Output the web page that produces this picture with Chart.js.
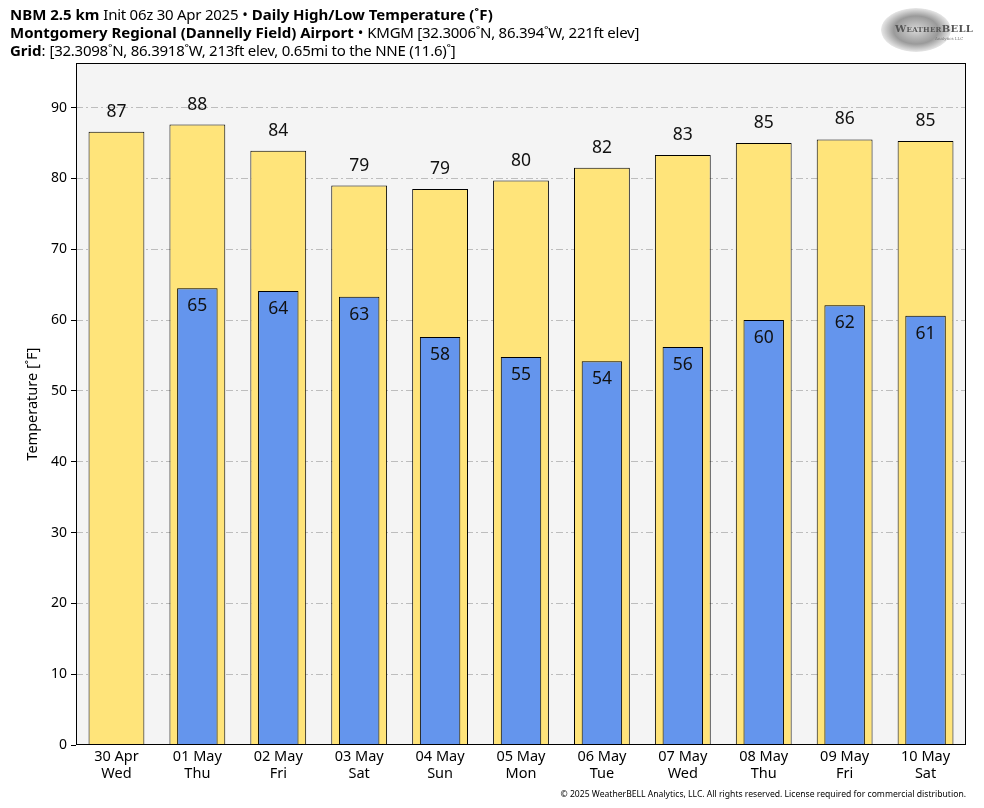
<!DOCTYPE html>
<html>
<head>
<meta charset="utf-8">
<script src="https://cdn.jsdelivr.net/npm/chart.js@4.4.1/dist/chart.umd.min.js"></script>
<style>
    html, body { margin: 0; padding: 0; background: #fff; }
    body { width: 984px; height: 808px; position: relative; overflow: hidden; font-family: "Noto Sans", sans-serif; }
    #wrap { position: absolute; left: 0; top: 0; width: 984px; height: 808px; }
    .hdr { position: absolute; left: 10px; font-size: 15px; line-height: 18px; color: #000; white-space: nowrap; }
    .hdr b { font-weight: 700; }
    .hdr .n { letter-spacing: -0.25px; }
    #foot { position: absolute; right: 18px; top: 788px; font-size: 8.6px; color: #000; }
    #logo { position: absolute; left: 879px; top: 7px; width: 92px; height: 46px; }
    #logo .ring { position: absolute; left: 2px; top: 1px; width: 70px; height: 44px; border-radius: 50%;
        background: radial-gradient(ellipse at center, #d8d8d8 0%, #9a9a9a 45%, #e6e6e6 70%, #fff 72%); }
    #logo .t { position: absolute; left: 16px; top: 16px; font-family: "DejaVu Serif", serif; font-size: 10px; color: #555; font-weight: 700; letter-spacing: 0.3px; }
    #logo .s { position: absolute; left: 56px; top: 29px; font-family: "DejaVu Serif", serif; font-size: 4px; color: #777; }
</style>
</head>
<body>
<div id="wrap"><canvas id="tempChart"></canvas></div>
<div class="hdr" style="top:5px"><b>NBM 2.5 km</b> <span class="n">Init 06z 30 Apr 2025</span> &bull; <b>Daily High/Low Temperature (&#730;F)</b></div>
<div class="hdr" style="top:23px"><b>Montgomery Regional (Dannelly Field) Airport</b> &bull; <span class="n">KMGM [32.3006&#730;N, 86.394&#730;W, 221ft elev]</span></div>
<div class="hdr" style="top:41px"><b>Grid</b>: <span class="n">[32.3098&#730;N, 86.3918&#730;W, 213ft elev, 0.65mi to the NNE (11.6)&#730;]</span></div>
<div id="logo"><div class="ring"></div><div class="t">W<span style="font-size:7px">EATHER</span>BELL</div><div class="s">Analytics LLC</div></div>
<div id="foot">&copy; 2025 WeatherBELL Analytics, LLC. All rights reserved. License required for commercial distribution.</div>
<script>
(function () {
    'use strict';

    var dateLabels = ['30 Apr', '01 May', '02 May', '03 May', '04 May', '05 May', '06 May', '07 May', '08 May', '09 May', '10 May'];
    var dayLabels = ['Wed', 'Thu', 'Fri', 'Sat', 'Sun', 'Mon', 'Tue', 'Wed', 'Thu', 'Fri', 'Sat'];
    var highTemps = [86.6, 87.6, 83.9, 79.0, 78.5, 79.7, 81.5, 83.3, 85.0, 85.5, 85.3];
    var lowTemps = [null, 64.5, 64.1, 63.3, 57.6, 54.8, 54.2, 56.2, 60.0, 62.1, 60.6];
    var yTicks = [0, 10, 20, 30, 40, 50, 60, 70, 80, 90];

    var fontFamily = '"Noto Sans", sans-serif';
    var labelFont = '17.5px ' + fontFamily;

    // plot background + frame
    var frame = {
        id: 'frame',
        beforeDraw: function (chart) {
            var a = chart.chartArea, c = chart.ctx;
            c.save();
            c.fillStyle = '#f4f4f4';
            c.fillRect(a.left, a.top, a.right - a.left, a.bottom - a.top);
            c.restore();
        },
        afterDraw: function (chart) {
            var a = chart.chartArea, c = chart.ctx;
            c.save();
            c.strokeStyle = '#000';
            c.lineWidth = 1;
            c.strokeRect(a.left + 0.5, a.top + 0.5, a.right - a.left - 1, a.bottom - a.top - 1);
            c.restore();
        }
    };

    // value labels: highs above bar, lows inside top of bar
    var valueLabels = {
        id: 'valueLabels',
        afterDatasetsDraw: function (chart) {
            var c = chart.ctx;
            c.save();
            c.font = labelFont;
            c.fillStyle = '#111';
            c.textAlign = 'center';
            c.textBaseline = 'alphabetic';
            chart.data.datasets.forEach(function (ds, i) {
                var meta = chart.getDatasetMeta(i);
                meta.data.forEach(function (bar, j) {
                    var v = ds.data[j];
                    if (v === null || v === undefined) return;
                    var txt = String(Math.round(v));
                    if (ds.isHigh) c.fillText(txt, bar.x, bar.y - 15);
                    else c.fillText(txt, bar.x, bar.y + 23);
                });
            });
            c.restore();
        }
    };

    var ctx = document.getElementById('tempChart');
    new Chart(ctx, {
        type: 'bar',
        data: {
            labels: dateLabels.map(function (d, i) { return [d, dayLabels[i]]; }),
            datasets: [
                {
                    label: 'Low', data: lowTemps, isHigh: false, grouped: false, order: 0,
                    backgroundColor: '#6495ed', borderColor: '#000', borderWidth: 1,
                    categoryPercentage: 1, barPercentage: 0.5
                },
                {
                    label: 'High', data: highTemps, isHigh: true, grouped: false, order: 1,
                    backgroundColor: '#ffe47a', borderColor: '#000', borderWidth: 1,
                    categoryPercentage: 1, barPercentage: 0.69
                }
            ]
        },
        options: {
            responsive: true, maintainAspectRatio: false, animation: false,
            layout: { padding: { top: 63, right: 18, left: 24, bottom: 0 } },
            plugins: { legend: { display: false }, tooltip: { enabled: false } },
            scales: {
                x: {
                    grid: { display: false, drawTicks: false },
                    border: { display: false },
                    ticks: { color: '#000', font: { size: 14.5, family: fontFamily, lineHeight: 1.15 }, padding: 4, maxRotation: 0, autoSkip: false },
                    afterFit: function (s) { s.height = 63; }
                },
                y: {
                    min: 0, max: 96.3,
                    afterBuildTicks: function (s) { s.ticks = yTicks.map(function (v) { return { value: v }; }); },
                    grid: {
                        color: function (c) { return c.tick && c.tick.value === 0 ? 'rgba(0,0,0,0)' : '#bdbdbd'; },
                        tickColor: '#000', tickLength: 5, lineWidth: 1
                    },
                    border: { display: false, dash: [7, 3, 2, 3] },
                    ticks: { color: '#000', font: { size: 14, family: fontFamily }, padding: 4 },
                    title: { display: true, text: 'Temperature [\u02daF]', color: '#000', font: { size: 14.5, family: fontFamily }, padding: 0 },
                    afterFit: function (s) { s.width = 52; }
                }
            }
        },
        plugins: [frame, valueLabels]
    });
})();
</script>
</body>
</html>
